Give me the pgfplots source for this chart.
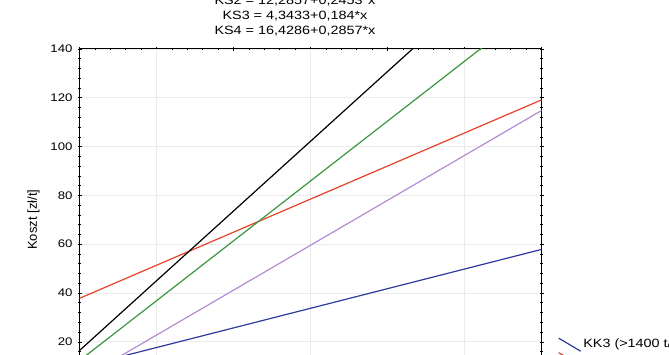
\documentclass[border=0pt]{standalone}
\usepackage{fontspec}
\setmainfont{Liberation Sans}[FakeStretch=1.2]
\newfontfamily\plainfont{Liberation Sans}
\usepackage{pgfplots}
\pgfplotsset{compat=1.18}
\definecolor{cgreen}{RGB}{60,150,60}
\definecolor{cred}{RGB}{232,64,42}
\definecolor{cpurple}{RGB}{180,140,210}
\definecolor{cblue}{RGB}{48,58,160}
\begin{document}
\begin{tikzpicture}
\begin{axis}[
  at={(79.5pt,-35.6pt)}, anchor=south west,
  scale only axis, width=462pt, height=341.7pt,
  xmin=0, xmax=600, ymin=0, ymax=140,
  xtick={0,100,...,600}, xticklabels={},
  ytick={0,20,...,140}, yticklabels={,20,40,60,80,100,120,140},
  minor x tick num=4, minor y tick num=4,
  tick align=center, major tick length=4pt, minor tick length=2.5pt,
  tick style={black, line width=0.5pt},
  xmajorgrids=false, ymajorgrids=true,
  extra x ticks={100,300,500}, extra x tick labels={},
  extra x tick style={xmajorgrids=true, major tick length=0pt},
  major grid style={gray!16, line width=0.7pt},
  axis line style={black, line width=0.8pt},
  /pgf/number format/assume math mode=true,
  ticklabel style={font=\fontsize{11}{13}\selectfont},
  yticklabel style={xshift=-1.5pt},
  ylabel={Koszt [zł/t]},
  ylabel style={font=\plainfont\fontsize{13}{15}\selectfont, at={(axis description cs:-0.0996,0.5)}, anchor=center},
  legend style={draw=none, fill=none, at={(1.029,0.163)}, anchor=north west,
    font=\fontsize{12}{14}\selectfont, row sep=0pt},
  legend cell align=left,
  legend image code/.code={\draw[#1] (0pt,6pt) -- (22pt,-7pt);},
]
\addplot[cblue, line width=1.2pt] coordinates {(0,9.6) (600,57.84)};
\addlegendentry{KK3 (>1400 t/rok)}
\addplot[cred, line width=1.2pt] coordinates {(0,37.8) (600,119.1)};
\addlegendentry{\phantom{K}}
\addplot[black, line width=1.2pt] coordinates {(0,16.4286) (600,187.8486)};
\addplot[cgreen, line width=1.2pt] coordinates {(0,12.2857) (600,159.4657)};
\addplot[cpurple, line width=1.2pt] coordinates {(0,4.3433) (600,114.7433)};
\end{axis}
\node[anchor=base, font=\fontsize{12}{14}\selectfont] at (295pt,350.7pt) {KS2 = 12,2857+0,2453*x};
\node[anchor=base, font=\fontsize{12}{14}\selectfont] at (295pt,335.7pt) {KS3 = 4,3433+0,184*x};
\node[anchor=base, font=\fontsize{12}{14}\selectfont] at (295pt,320.7pt) {KS4 = 16,4286+0,2857*x};
\pgfresetboundingbox
\path[use as bounding box] (0pt,0pt) rectangle (669pt,355pt);
\end{tikzpicture}
\end{document}
